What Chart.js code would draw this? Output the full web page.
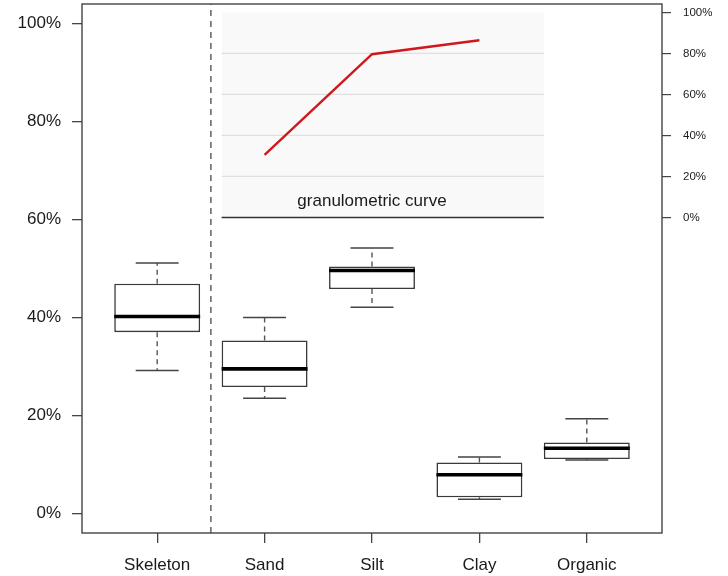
<!DOCTYPE html>
<html>
<head>
<meta charset="utf-8">
<script src="https://cdn.jsdelivr.net/npm/chart.js@4/dist/chart.umd.min.js"></script>
<style>
  html, body { margin: 0; padding: 0; background: #fff; }
  canvas { display: block; }
</style>
</head>
<body>
<canvas id="c" width="728" height="576"></canvas>
<script>
// ---- data ----
const categories = ['Skeleton', 'Sand', 'Silt', 'Clay', 'Organic'];
const whiskerLow  = [29.2, 23.5, 42.1,  2.9, 10.9];
const q1          = [37.0, 25.8, 45.8,  3.3, 11.1];
const median      = [40.2, 29.5, 49.6,  7.9, 13.3];
const q3          = [46.9, 35.3, 50.4, 10.4, 14.5];
const whiskerHigh = [51.1, 40.0, 54.2, 11.5, 19.3];

const curveCategories = ['Sand', 'Silt', 'Clay'];
const curveValues = [30.5, 79.6, 86.4];
const curveTitle = 'granulometric curve';

const mainTicks = [0, 20, 40, 60, 80, 100];
const insetTicks = [0, 20, 40, 60, 80, 100];
const insetGrid = [20, 40, 60, 80];

// ---- layout constants (data space) ----
const X_MIN = 0.3, X_MAX = 5.7;
const Y_MIN = -4, Y_MAX = 104;
const Y2_MIN = -153.9, Y2_MAX = 104.1;
const INSET_X = [1.6, 4.6];
const SEPARATOR_X = 1.5;
const BOX_HALF = 0.4, CAP_HALF = 0.2;

const pos = c => categories.indexOf(c) + 1;
const GAP = i => ({ x: i + 1, y: null });

// build segment lists
const whiskerPts = [], capPts = [], medianPts = [];
categories.forEach((c, i) => {
  const x = i + 1;
  whiskerPts.push({x, y: q3[i]}, {x, y: whiskerHigh[i]}, GAP(i), {x, y: q1[i]}, {x, y: whiskerLow[i]}, GAP(i));
  capPts.push({x: x - CAP_HALF, y: whiskerHigh[i]}, {x: x + CAP_HALF, y: whiskerHigh[i]}, GAP(i),
              {x: x - CAP_HALF, y: whiskerLow[i]}, {x: x + CAP_HALF, y: whiskerLow[i]}, GAP(i));
  medianPts.push({x: x - BOX_HALF, y: median[i]}, {x: x + BOX_HALF, y: median[i]}, GAP(i));
});
const gridPts = [];
insetGrid.forEach(v => gridPts.push({x: INSET_X[0], y: v}, {x: INSET_X[1], y: v}, {x: INSET_X[1], y: null}));

const lineBase = { type: 'line', pointRadius: 0, pointHoverRadius: 0, spanGaps: false, fill: false, tension: 0 };

const frameAndText = {
  id: 'frameAndText',
  afterDatasetsDraw(chart) {
    const ctx = chart.ctx, a = chart.chartArea;
    const xs = chart.scales.x, y2 = chart.scales.y2;
    ctx.save();
    ctx.fillStyle = '#1a1a1a';
    ctx.font = '17px "Liberation Sans", Arial, sans-serif';
    ctx.textAlign = 'center';
    ctx.textBaseline = 'middle';
    ctx.fillText(curveTitle, xs.getPixelForValue(pos('Silt')), y2.getPixelForValue(8.0));
    ctx.strokeStyle = '#444';
    ctx.lineWidth = 1.4;
    ctx.strokeRect(a.left, a.top, a.right - a.left, a.bottom - a.top);
    ctx.restore();
  }
};

const noPad = s => { s.paddingTop = 0; s.paddingBottom = 0; s.paddingLeft = 0; s.paddingRight = 0; };

new Chart(document.getElementById('c'), {
  data: {
    datasets: [
      { ...lineBase, order: 20, yAxisID: 'y2',
        data: [{x: INSET_X[0], y: 100}, {x: INSET_X[1], y: 100}],
        borderWidth: 0, borderColor: 'rgba(0,0,0,0)', backgroundColor: '#f9f9f9', fill: 'origin' },
      { ...lineBase, order: 19, yAxisID: 'y2', data: gridPts, borderColor: '#e0e0e0', borderWidth: 1.2 },
      { ...lineBase, order: 18, yAxisID: 'y2',
        data: [{x: INSET_X[0], y: 0}, {x: INSET_X[1], y: 0}], borderColor: '#333', borderWidth: 1.4 },
      { ...lineBase, order: 17, yAxisID: 'y2',
        data: curveCategories.map((c, i) => ({x: pos(c), y: curveValues[i]})),
        borderColor: '#d0181c', borderWidth: 2.4 },
      { type: 'bar', order: 10, yAxisID: 'y', grouped: false,
        data: categories.map((c, i) => ({x: i + 1, y: [q1[i], q3[i]]})),
        backgroundColor: '#ffffff', borderColor: '#3a3a3a', borderWidth: 1.6, borderSkipped: false,
        barPercentage: 2 * BOX_HALF, categoryPercentage: 1 },
      { ...lineBase, order: 9, yAxisID: 'y', data: whiskerPts, borderColor: '#555', borderWidth: 1.4, borderDash: [5, 4] },
      { ...lineBase, order: 8, yAxisID: 'y', data: capPts, borderColor: '#444', borderWidth: 1.5 },
      { ...lineBase, order: 7, yAxisID: 'y', data: medianPts, borderColor: '#000', borderWidth: 3.6, borderCapStyle: 'butt' },
      { ...lineBase, order: 6, yAxisID: 'y',
        data: [{x: SEPARATOR_X, y: Y_MIN}, {x: SEPARATOR_X, y: Y_MAX}], borderColor: '#555', borderWidth: 1.4, borderDash: [6, 5] }
    ]
  },
  options: {
    responsive: false,
    devicePixelRatio: 1,
    animation: false,
    layout: { padding: { top: 4, left: 0, right: 0, bottom: 0 } },
    plugins: { legend: { display: false }, tooltip: { enabled: false } },
    scales: {
      x: {
        type: 'linear', position: 'bottom', min: X_MIN, max: X_MAX, offset: false,
        afterBuildTicks: s => { s.ticks = categories.map((c, i) => ({ value: i + 1 })); },
        afterFit: s => { s.height = 43; noPad(s); },
        ticks: { callback: v => categories[v - 1], color: '#1a1a1a', padding: 12, maxRotation: 0, autoSkip: false,
                 font: { family: '"Liberation Sans", Arial, sans-serif', size: 17 } },
        grid: { offset: false, drawOnChartArea: false, drawTicks: true, tickLength: 10, color: '#444', lineWidth: 1.3 },
        border: { display: false }
      },
      y: {
        type: 'linear', position: 'left', min: Y_MIN, max: Y_MAX,
        afterBuildTicks: s => { s.ticks = mainTicks.map(v => ({ value: v })); },
        afterFit: s => { s.width = 82; noPad(s); },
        ticks: { callback: v => v + '%', color: '#1a1a1a', padding: 11,
                 font: { family: '"Liberation Sans", Arial, sans-serif', size: 17 } },
        grid: { drawOnChartArea: false, drawTicks: true, tickLength: 10, color: '#444', lineWidth: 1.3 },
        border: { display: false }
      },
      y2: {
        type: 'linear', position: 'right', min: Y2_MIN, max: Y2_MAX,
        afterBuildTicks: s => { s.ticks = insetTicks.map(v => ({ value: v })); },
        afterFit: s => { s.width = 66; noPad(s); },
        ticks: { callback: v => v + '%', color: '#1a1a1a', padding: 12,
                 font: { family: '"Liberation Sans", Arial, sans-serif', size: 11.5 } },
        grid: { drawOnChartArea: false, drawTicks: true, tickLength: 9, color: '#444', lineWidth: 1.2 },
        border: { display: false }
      }
    }
  },
  plugins: [frameAndText]
});
</script>
</body>
</html>
